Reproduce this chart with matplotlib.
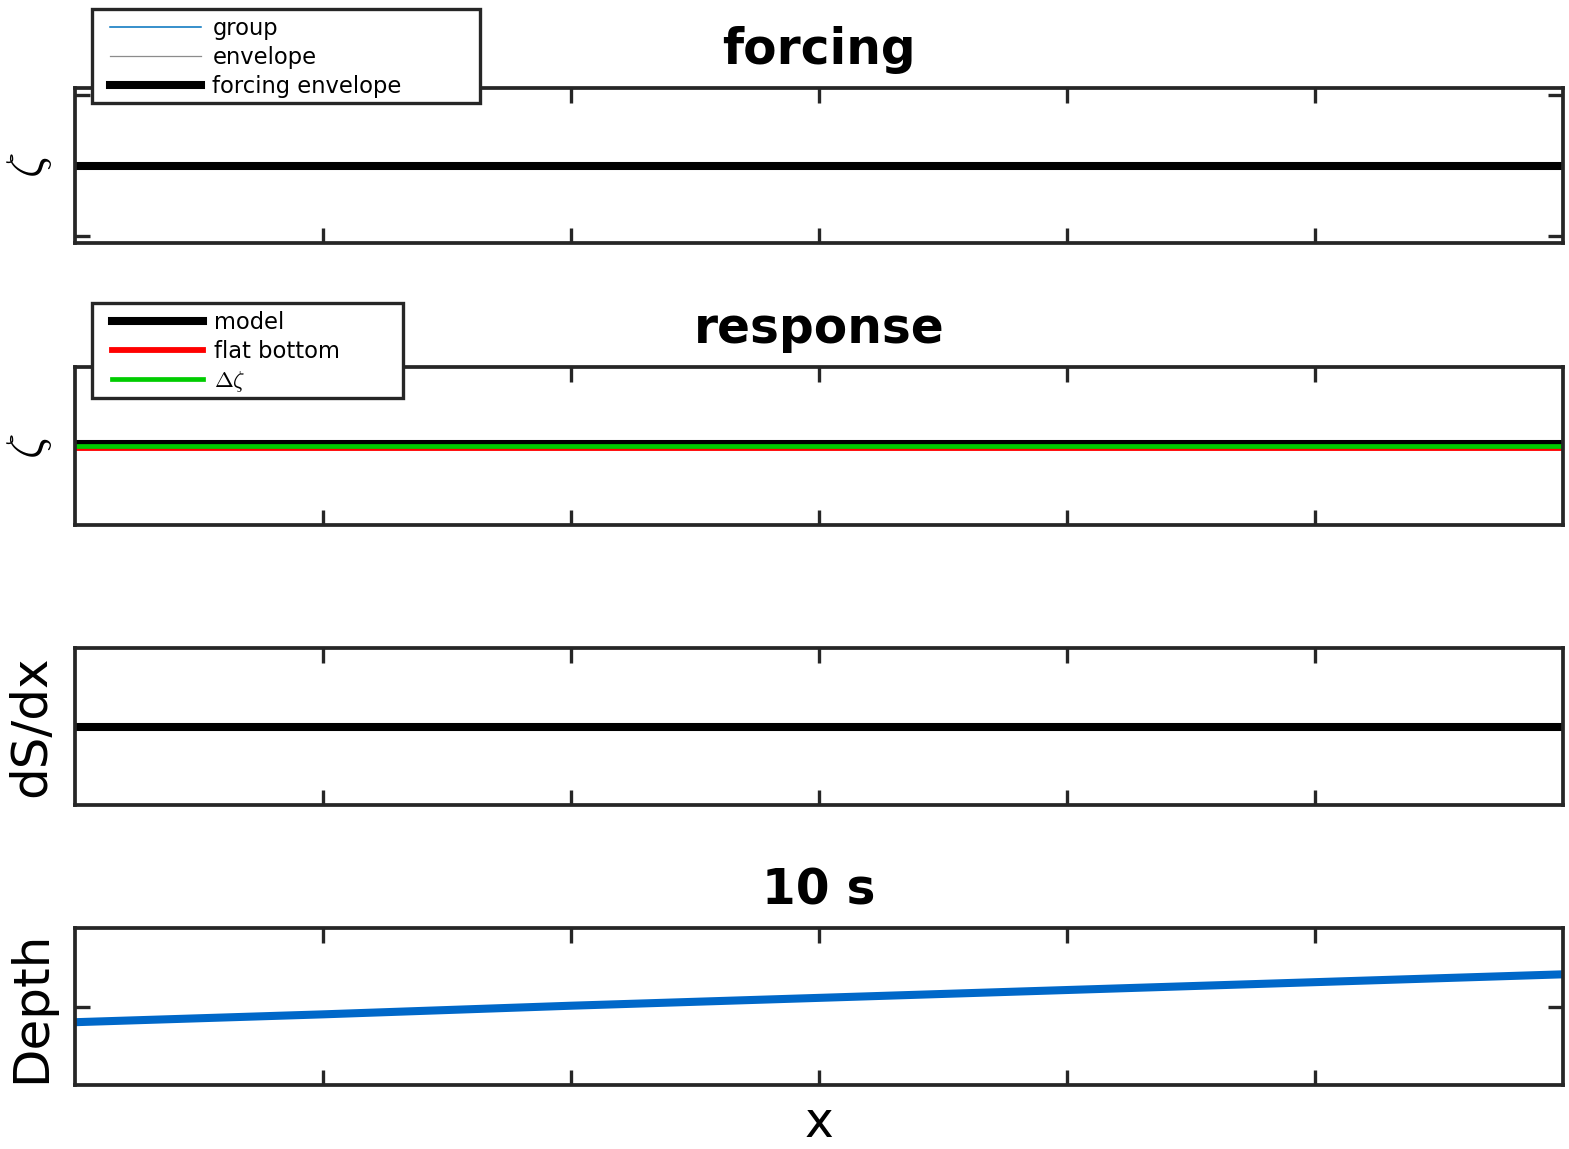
import matplotlib
matplotlib.use("Agg")
import matplotlib.pyplot as plt
from matplotlib.patches import Rectangle

plt.rcParams['font.family'] = ['DejaVu Sans']
plt.rcParams['mathtext.fontset'] = 'cm'

# ---- data ----
x_vals = [0, 1, 2, 3, 4, 5, 6]
x_ticks = [1, 2, 3, 4, 5]

forcing_group = [0, 0, 0, 0, 0, 0, 0]
forcing_env = [0, 0, 0, 0, 0, 0, 0]
forcing_envelope = [0, 0, 0, 0, 0, 0, 0]

resp_model = [0.025, 0.025, 0.025, 0.025, 0.025, 0.025, 0.025]
resp_flat = [-0.03, -0.03, -0.03, -0.03, -0.03, -0.03, -0.03]
resp_dzeta = [0.005, 0.005, 0.005, 0.005, 0.005, 0.005, 0.005]

dSdx = [0, 0, 0, 0, 0, 0, 0]

depth = [-0.20, -0.10, 0.01, 0.11, 0.21, 0.31, 0.41]

titles = ["forcing", "response", "", "10 s"]
ylabels = [r"$\zeta$", r"$\zeta$", "dS/dx", "Depth"]

# ---- figure ----
W, H = 1569, 1149
fig = plt.figure(figsize=(W / 100, H / 100), dpi=100)

spine_c = '#262626'
boxes = [(88, 243), (367, 525), (648, 805), (928, 1085)]
left_px, right_px = 75, 1563
axes = []
for (t, b) in boxes:
    ax = fig.add_axes([left_px / W, 1 - b / H, (right_px - left_px) / W, (b - t) / H])
    ax.set_xlim(0, 6)
    ax.set_xticks(x_ticks)
    ax.set_xticklabels([])
    for s in ax.spines.values():
        s.set_linewidth(2.7)
        s.set_color(spine_c)
    ax.tick_params(direction='in', length=11, width=2.4, color=spine_c,
                   top=True, right=True, labelleft=False, labelbottom=False)
    axes.append(ax)

ax1, ax2, ax3, ax4 = axes

# panel 1
ax1.set_ylim(-1.1, 1.1)
ax1.set_yticks([-1, 1])
ax1.set_yticklabels([])
l1, = ax1.plot(x_vals, forcing_group, color='#0072BD', lw=1.1, label='group')
l2, = ax1.plot(x_vals, forcing_env, color='#8c8c8c', lw=0.9, label='envelope')
l3, = ax1.plot(x_vals, forcing_envelope, color='black', lw=5.8, label='forcing envelope')

# panel 2
ax2.set_ylim(-1, 1)
ax2.set_yticks([])
m1, = ax2.plot(x_vals, resp_model, color='black', lw=5.8, label='model')
m2, = ax2.plot(x_vals, resp_flat, color='#FF0000', lw=4.2, label='flat bottom')
m3, = ax2.plot(x_vals, resp_dzeta, color='#00CC00', lw=3.4, label=r'$\Delta\zeta$')

# panel 3
ax3.set_ylim(-1, 1)
ax3.set_yticks([])
ax3.plot(x_vals, dSdx, color='black', lw=5.8)

# panel 4
ax4.set_ylim(-1, 1)
ax4.set_yticks([0])
ax4.set_yticklabels([])
ax4.plot(x_vals, depth, color='#0068C9', lw=5.8)

for ax, t, yl in zip(axes, titles, ylabels):
    if t:
        ax.set_title(t, fontsize=35, fontweight='bold', pad=17)
    if yl.startswith('$'):
        ax.set_ylabel(yl, fontsize=36, labelpad=15)
    else:
        ax.set_ylabel(yl, fontsize=36, labelpad=14)

ax4.set_xlabel('x', fontsize=35, labelpad=10)

# legends: frame drawn as a rectangle in figure pixels, entries frameless
def legend_box(x0, y0, x1, y1):
    r = Rectangle((x0 / W, 1 - y1 / H), (x1 - x0) / W, (y1 - y0) / H,
                  transform=fig.transFigure, facecolor='white',
                  edgecolor=spine_c, linewidth=2.4, zorder=4)
    fig.add_artist(r)

legend_box(92, 9, 480, 103)
legend_box(92, 303, 403, 398)

lg_kw = dict(loc='upper left', borderaxespad=0, borderpad=0, frameon=False,
             fontsize=16.3, handlelength=4.0, handletextpad=0.52,
             labelspacing=0.27)
leg1 = fig.legend(handles=[l1, l2, l3], bbox_to_anchor=(110 / W, 1 - 17 / H), **lg_kw)
leg2 = fig.legend(handles=[m1, m2, m3], bbox_to_anchor=(112 / W, 1 - 311 / H), **lg_kw)
leg1.set_zorder(5)
leg2.set_zorder(5)

fig.savefig('out.png', dpi=100, facecolor='white')
